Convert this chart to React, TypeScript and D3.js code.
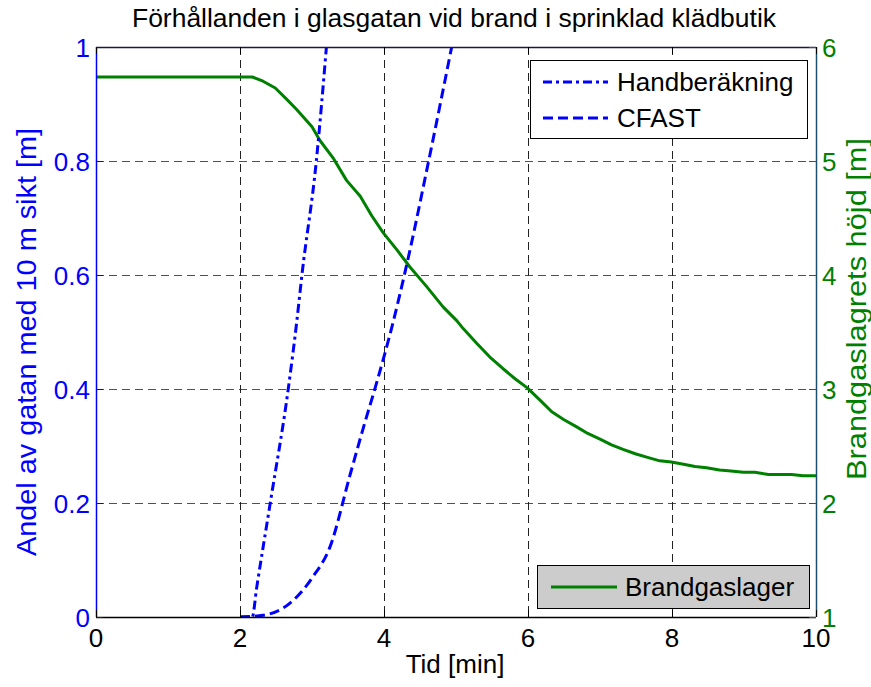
import React from "react";
import * as d3 from "d3";

const W = 871;
const H = 687;
const M = { left: 96, right: 816, top: 47, bottom: 617 };

const titleText = "Förhållanden i glasgatan vid brand i sprinklad klädbutik";
const xLabel = "Tid [min]";
const yLeftLabel = "Andel av gatan med 10 m sikt [m]";
const yRightLabel = "Brandgaslagrets höjd [m]";

const xTicks = [0, 2, 4, 6, 8, 10];
const yLeftTicks = [0, 0.2, 0.4, 0.6, 0.8, 1];
const yLeftTickLabels = ["0", "0.2", "0.4", "0.6", "0.8", "1"];
const yRightTicks = [1, 2, 3, 4, 5, 6];

// Handberäkning (left axis)
const handTime = [2.0, 2.17, 2.23, 2.42, 2.67, 2.79, 2.86, 3.06, 3.2];
const handValue = [0, 0, 0.05, 0.2, 0.4, 0.52, 0.6, 0.8, 1.0];

// CFAST (left axis)
const cfastTime = [2.0, 2.32, 2.69, 3.01, 3.25, 3.53, 3.72, 3.9, 4.11, 4.31, 4.62, 4.94];
const cfastValue = [0, 0.003, 0.024, 0.07, 0.123, 0.25, 0.335, 0.412, 0.509, 0.615, 0.8, 1.0];

// Brandgaslager (right axis)
const gasTime = [0, 2.17, 2.32, 2.49, 2.65, 2.79, 3.0, 3.11, 3.3, 3.48, 3.67, 3.83, 3.99, 4.18, 4.36, 4.59, 4.82, 5.01, 5.1, 5.29, 5.47, 5.65, 5.82, 5.99, 6.17, 6.33, 6.5, 6.67, 6.83, 7.0, 7.16, 7.32, 7.5, 7.66, 7.83, 7.99, 8.16, 8.32, 8.48, 8.66, 8.82, 8.99, 9.15, 9.34, 9.5, 9.66, 9.82, 10.0];
const gasHeight = [5.737, 5.737, 5.7, 5.64, 5.54, 5.45, 5.3, 5.18, 5.02, 4.83, 4.69, 4.52, 4.37, 4.22, 4.07, 3.9, 3.72, 3.6, 3.53, 3.4, 3.28, 3.18, 3.09, 3.01, 2.9, 2.8, 2.73, 2.67, 2.61, 2.56, 2.51, 2.47, 2.43, 2.4, 2.37, 2.36, 2.34, 2.32, 2.31, 2.29, 2.28, 2.27, 2.27, 2.25, 2.25, 2.25, 2.24, 2.24];

const FONT = "'Liberation Sans', Arial, Helvetica, sans-serif";
const FS = 26;
const BLUE = "#0000ff";
const GREEN = "#008000";

export default function App() {
  const x = d3.scaleLinear().domain([0, 10]).range([M.left, M.right]);
  const yL = d3.scaleLinear().domain([0, 1]).range([M.bottom, M.top]);
  const yR = d3.scaleLinear().domain([1, 6]).range([M.bottom, M.top]);

  const lineL = d3
    .line<[number, number]>()
    .x((d) => x(d[0]))
    .y((d) => yL(d[1]))
    .curve(d3.curveMonotoneX);
  const lineR = d3
    .line<[number, number]>()
    .x((d) => x(d[0]))
    .y((d) => yR(d[1]));

  const handPts = handTime.map((t, i) => [t, handValue[i]] as [number, number]);
  const cfastPts = cfastTime.map((t, i) => [t, cfastValue[i]] as [number, number]);
  const gasPts = gasTime.map((t, i) => [t, gasHeight[i]] as [number, number]);

  const tick = 7;

  return (
    <svg
      width={W}
      height={H}
      style={{ position: "absolute", left: 0, top: 0, background: "#fff" }}
      fontFamily={FONT}
    >
      <defs>
        <clipPath id="plotclip">
          <rect x={M.left} y={M.top} width={M.right - M.left} height={M.bottom - M.top} />
        </clipPath>
      </defs>
      <rect x={0} y={0} width={W} height={H} fill="#fff" />

      {/* horizontal grid (left axis, blue) */}
      {yLeftTicks
        .filter((v) => v > 0 && v < 1)
        .map((v) => (
          <line
            key={"hg" + v}
            x1={M.left}
            x2={M.right}
            y1={Math.round(yL(v)) + 0.5}
            y2={Math.round(yL(v)) + 0.5}
            stroke="#3b3bff"
            strokeWidth={1}
            strokeDasharray="8,5"
          />
        ))}
      {/* vertical grid (black) */}
      {xTicks
        .filter((v) => v > 0 && v < 10)
        .map((v) => (
          <line
            key={"vg" + v}
            x1={Math.round(x(v)) + 0.5}
            x2={Math.round(x(v)) + 0.5}
            y1={M.top}
            y2={M.bottom}
            stroke="#222"
            strokeWidth={1}
            strokeDasharray="8,5"
          />
        ))}

      {/* data lines */}
      <g clipPath="url(#plotclip)">
        <path d={lineR(gasPts) || ""} fill="none" stroke={GREEN} strokeWidth={3} strokeLinejoin="round" />
        <path d={lineL(handPts) || ""} fill="none" stroke={BLUE} strokeWidth={3} strokeDasharray="9,4,3,4" />
        <path d={lineL(cfastPts) || ""} fill="none" stroke={BLUE} strokeWidth={3} strokeDasharray="10,5" />
      </g>

      {/* axes box */}
      <line x1={M.left} x2={M.right} y1={M.top + 0.5} y2={M.top + 0.5} stroke="#1a1a40" strokeWidth={1.5} />
      <line x1={M.left} x2={M.right} y1={M.bottom + 0.5} y2={M.bottom + 0.5} stroke="#000" strokeWidth={1.5} />
      <line x1={M.left + 0.5} x2={M.left + 0.5} y1={M.top} y2={M.bottom} stroke={BLUE} strokeWidth={1.5} />
      <line x1={M.right + 0.5} x2={M.right + 0.5} y1={M.top} y2={M.bottom} stroke="#1b4f6e" strokeWidth={1.5} />

      {/* x ticks */}
      {xTicks.map((v) => (
        <g key={"xt" + v}>
          <line x1={x(v) + 0.5} x2={x(v) + 0.5} y1={M.bottom} y2={M.bottom - tick} stroke="#000" />
          <line x1={x(v) + 0.5} x2={x(v) + 0.5} y1={M.top} y2={M.top + tick} stroke="#000" />
          <text x={x(v)} y={647} textAnchor="middle" fontSize={FS} fill="#000">
            {v}
          </text>
        </g>
      ))}

      {/* left ticks */}
      {yLeftTicks.map((v, i) => (
        <g key={"yl" + v}>
          <line x1={M.left} x2={M.left + tick} y1={yL(v) + 0.5} y2={yL(v) + 0.5} stroke={BLUE} />
          <text x={90} y={yL(v) + 9.5} textAnchor="end" fontSize={FS} fill={BLUE}>
            {yLeftTickLabels[i]}
          </text>
        </g>
      ))}

      {/* right ticks */}
      {yRightTicks.map((v) => (
        <g key={"yr" + v}>
          <line x1={M.right} x2={M.right - tick} y1={yR(v) + 0.5} y2={yR(v) + 0.5} stroke={GREEN} />
          <text x={822} y={yR(v) + 9.5} textAnchor="start" fontSize={FS} fill={GREEN}>
            {v}
          </text>
        </g>
      ))}

      {/* title and labels */}
      <text x={454} y={27} textAnchor="middle" fontSize={FS} fill="#000" textLength={644} lengthAdjust="spacingAndGlyphs">
        {titleText}
      </text>
      <text x={455} y={673} textAnchor="middle" fontSize={FS} fill="#000">
        {xLabel}
      </text>
      <text
        transform={`translate(36,342) rotate(-90)`}
        textAnchor="middle"
        fontSize={27}
        fill={BLUE}
        textLength={428}
        lengthAdjust="spacingAndGlyphs"
      >
        {yLeftLabel}
      </text>
      <text
        transform={`translate(866,309) rotate(-90)`}
        textAnchor="middle"
        fontSize={27}
        fill={GREEN}
        textLength={342}
        lengthAdjust="spacingAndGlyphs"
      >
        {yRightLabel}
      </text>

      {/* legend 1 */}
      <g>
        <rect x={530.5} y={60.5} width={277} height={78} fill="#fff" stroke="#000" strokeWidth={1} />
        <line x1={543} x2={608} y1={82} y2={82} stroke={BLUE} strokeWidth={3} strokeDasharray="9,4,3,4" />
        <text x={617} y={91} fontSize={FS} fill="#000">
          Handberäkning
        </text>
        <line x1={543} x2={608} y1={118} y2={118} stroke={BLUE} strokeWidth={3} strokeDasharray="10,5" />
        <text x={617} y={127} fontSize={FS} fill="#000">
          CFAST
        </text>
      </g>

      {/* legend 2 */}
      <g>
        <rect x={537.5} y={565.5} width={272} height={43} fill="#cccccc" stroke="#000" strokeWidth={1} />
        <line x1={551} x2={617} y1={587} y2={587} stroke={GREEN} strokeWidth={3} />
        <text x={625} y={596} fontSize={FS} fill="#000">
          Brandgaslager
        </text>
      </g>
    </svg>
  );
}
